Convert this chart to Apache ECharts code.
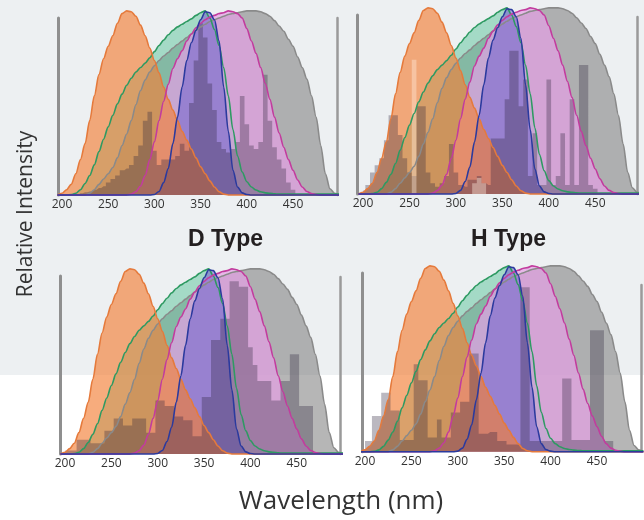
<!DOCTYPE html>
<html>
<head>
<meta charset="utf-8">
<script src="https://cdn.jsdelivr.net/npm/echarts@6/dist/echarts.min.js"></script>
<style>
html, body { margin: 0; padding: 0; }
body { width: 644px; height: 520px; background: linear-gradient(#edf0f2 0, #edf0f2 375px, #ffffff 375px); }
#chart { width: 644px; height: 520px; }
</style>
</head>
<body>
<div id="chart"></div>
<script>
// wavelengths for the spectra (nm)
var wl = [195,200,205,210,215,220,225,230,235,240,245,250,255,260,265,270,275,280,285,290,
  295,300,305,310,315,320,325,330,335,340,345,350,355,360,365,370,375,380,385,390,
  395,400,405,410,415,420,425,430,435,440,445,450,455,460,465,470,475,480,485,490,495,500];

// relative intensity, 1 = top of the axis line
var orangeCurve = [0,0.01,0.03,0.06,0.12,0.2,0.29,0.42,0.56,0.68,0.77,0.84,0.9,0.97,1.025,1.04,1.035,1.01,0.96,0.9,
  0.83,0.76,0.69,0.61,0.54,0.48,0.42,0.36,0.31,0.26,0.21,0.16,0.12,0.08,0.045,0.018,0.005,0,0,0,
  0,0,0,0,0,0,0,0,0,0,0,0,0,0,0,0,0,0,0,0,0,0];
var greenCurve = [0,0,0,0.002,0.01,0.03,0.065,0.11,0.17,0.245,0.315,0.385,0.45,0.515,0.57,0.62,0.66,0.695,0.72,0.745,
  0.775,0.81,0.845,0.875,0.905,0.93,0.95,0.965,0.98,0.995,1.015,1.03,1.04,1.0,0.935,0.845,0.72,0.56,0.37,0.22,
  0.13,0.075,0.045,0.028,0.018,0.012,0.009,0.007,0.005,0.005,0.005,0.005,0.005,0.005,0.005,0.005,0.005,0.005,0.005,0.005,0.005,0.005];
var grayCurve = [0,0,0,0,0,0,0,0.01,0.03,0.06,0.09,0.12,0.155,0.21,0.28,0.345,0.42,0.51,0.59,0.65,
  0.695,0.73,0.76,0.785,0.805,0.83,0.85,0.87,0.89,0.91,0.93,0.95,0.965,0.98,0.99,1.0,1.01,1.02,1.025,1.03,
  1.035,1.04,1.04,1.04,1.035,1.025,1.01,0.985,0.955,0.925,0.88,0.84,0.78,0.72,0.655,0.56,0.44,0.28,0.12,0.035,0.01,0];
var magentaCurve = [0,0,0,0,0,0,0,0,0,0,0,0,0,0,0,0,0.005,0.02,0.05,0.11,
  0.2,0.3,0.42,0.53,0.625,0.715,0.77,0.815,0.87,0.91,0.945,0.97,0.99,1.005,1.015,1.025,1.03,1.04,1.035,1.025,
  1.0,0.94,0.87,0.8,0.72,0.63,0.54,0.44,0.35,0.27,0.2,0.14,0.085,0.045,0.02,0.008,0.003,0,0,0,0,0];
var blueCurve = [0,0,0,0,0,0,0,0,0,0,0,0,0,0,0,0,0,0,0,0,
  0,0.003,0.02,0.07,0.15,0.29,0.44,0.61,0.76,0.86,0.93,0.99,1.035,1.03,0.99,0.87,0.61,0.36,0.14,0.045,
  0.012,0.003,0,0,0,0,0,0,0,0,0,0,0,0,0,0,0,0,0,0,0,0];

// histogram bin centres (nm)
var binWl = [200,205,210,215,220,225,230,235,240,245,250,255,260,265,270,275,280,285,290,295,
  300,305,310,315,320,325,330,335,340,345,350,355,360,365,370,375,380,385,390,395,
  400,405,410,415,420,425,430,435,440,445,450,455,460,465,470,475,480,485,490,495];

var histTopLeft = [0,0,0,0,0.01,0.015,0.02,0.03,0.04,0.05,0.07,0.09,0.11,0.14,0.15,0.17,0.22,0.28,0.42,0.47,
  0.25,0.17,0.2,0.2,0.2,0.22,0.29,0.25,0.52,0.76,0.97,0.89,0.63,0.48,0.3,0.26,0.24,0.26,0.3,0.56,
  0.4,0.28,0.26,0.3,0.68,0.42,0.27,0.2,0.15,0.07,0.03,0,0,0,0,0,0,0,0,0];
var histTopRight = [0.02,0.05,0.12,0.16,0.2,0.3,0.44,0.44,0.33,0.2,0.12,0.1,0.49,0.49,0.12,0.06,0.04,0.06,0.1,0.28,
  0.12,0.05,0.04,0.08,0.08,0.1,0.06,0.05,0.31,0.31,0.31,0.53,0.8,0.8,0.49,0.64,0.1,0.34,0.05,0.05,
  0.64,0.05,0.1,0.34,0.05,0.53,0.05,0.72,0.72,0.05,0.03,0,0,0,0,0,0,0,0,0];
// pale bars seen in the top-right panel
var lightTopRight = [0,0,0,0,0,0,0,0,0,0,0,0.75,0,0,0,0,0,0,0,0,
  0,0,0,0,0.06,0.09,0.06,0,0,0,0,0,0,0,0,0,0,0,0,0,
  0,0,0,0,0,0,0,0,0,0,0,0,0,0,0,0,0,0,0,0];
var histBottomLeft = [0.02,0.02,0.02,0.08,0.08,0.08,0.06,0.06,0.06,0.13,0.13,0.2,0.2,0.16,0.16,0.2,0.2,0.2,0.12,0.12,
  0.3,0.3,0.27,0.27,0.21,0.21,0.19,0.19,0.1,0.1,0.32,0.32,0.64,0.64,0.76,0.76,0.97,0.97,0.94,0.94,
  0.6,0.5,0.41,0.41,0.41,0.3,0.3,0.41,0.41,0.56,0.56,0.27,0.27,0.27,0,0,0,0,0,0];
var histBottomRight = [0.06,0.06,0.2,0.2,0.33,0.33,0.23,0.23,0.065,0.065,0.065,0.49,0.4,0.4,0.08,0.08,0.18,0.08,0.08,0.22,
  0.22,0.28,0.28,0.55,0.55,0.1,0.1,0.11,0.11,0.06,0.06,0.04,0.04,0.04,0.92,0.92,0.06,0.06,0.06,0.06,
  0.06,0.06,0.06,0.41,0.41,0.065,0.065,0.065,0.065,0.68,0.68,0.68,0.06,0.06,0,0,0,0,0,0];

var tickValues = [200, 250, 300, 350, 400, 450];

var panels = [
  { left: 58,  top: 18,  width: 279, height: 177,   min: 195.7, max: 497.6, hist: histTopLeft,     light: null,          edgeX: 337, edgeTop: 18 },
  { left: 357, top: 15,  width: 280, height: 179,   min: 193.5, max: 495,   hist: histTopRight,    light: lightTopRight, edgeX: 637, edgeTop: 17 },
  { left: 60,  top: 276, width: 281, height: 178,   min: 194.6, max: 497.7, hist: histBottomLeft,  light: null,          edgeX: 340, edgeTop: 277 },
  { left: 362, top: 273, width: 280, height: 178.7, min: 196.8, max: 498.5, hist: histBottomRight, light: null,          edgeX: 641, edgeTop: 285 }
];

var fills = [
  { data: grayCurve,    color: 'rgba(122,122,122,0.55)' },
  { data: greenCurve,   color: 'rgba(92,196,154,0.5)' },
  { data: magentaCurve, color: 'rgba(228,160,228,0.7)' },
  { data: blueCurve,    color: 'rgba(120,104,206,0.6)' },
  { data: orangeCurve,  color: 'rgba(242,128,56,0.65)' }
];
var strokes = [
  { data: grayCurve,    color: '#8a8a8a' },
  { data: greenCurve,   color: '#2e9a62' },
  { data: orangeCurve,  color: '#e57a3c' },
  { data: magentaCurve, color: '#c23c9e' },
  { data: blueCurve,    color: '#2b3a9e' }
];

function pairs(xs, ys) {
  return xs.map(function (x, i) { return [x, ys[i]]; });
}

var grids = [], xAxes = [], yAxes = [], series = [];

panels.forEach(function (p, k) {
  grids.push({ left: p.left, top: p.top, width: p.width, height: p.height });
  xAxes.push({
    type: 'value', gridIndex: k, min: p.min, max: p.max,
    axisLine: { show: false }, axisTick: { show: false }, splitLine: { show: false },
    axisLabel: { customValues: tickValues, margin: 4, fontSize: 12, color: '#333', fontFamily: 'Open Sans' }
  });
  yAxes.push({
    type: 'value', gridIndex: k, min: 0, max: 1,
    axisLine: { show: true, onZero: false, lineStyle: { color: '#8f8f8f', width: 3 } },
    axisTick: { show: false }, axisLabel: { show: false }, splitLine: { show: false }
  });

  fills.forEach(function (f) {
    series.push({
      type: 'line', xAxisIndex: k, yAxisIndex: k, data: pairs(wl, f.data),
      smooth: 0.3, smoothMonotone: 'x', symbol: 'none', clip: false, silent: true,
      lineStyle: { width: 0, opacity: 0 },
      areaStyle: { color: f.color, opacity: 1 }
    });
  });

  series.push({
    type: 'line', xAxisIndex: k, yAxisIndex: k, data: pairs(binWl, p.hist),
    step: 'middle', symbol: 'none', silent: true,
    lineStyle: { width: 0, opacity: 0 },
    areaStyle: { color: 'rgba(45,35,60,0.32)', opacity: 1 }
  });

  if (p.light) {
    series.push({
      type: 'line', xAxisIndex: k, yAxisIndex: k, data: pairs(binWl, p.light),
      step: 'middle', symbol: 'none', silent: true,
      lineStyle: { width: 0, opacity: 0 },
      areaStyle: { color: 'rgba(255,238,225,0.4)', opacity: 1 }
    });
  }

  strokes.forEach(function (s) {
    series.push({
      type: 'line', xAxisIndex: k, yAxisIndex: k, data: pairs(wl, s.data),
      smooth: 0.3, smoothMonotone: 'x', symbol: 'none', clip: false, silent: true,
      lineStyle: { color: s.color, width: 1.6 }
    });
  });
});

// thin grids carrying the right-hand frame lines
panels.forEach(function (p, k) {
  var gi = 4 + k;
  grids.push({ left: p.edgeX, top: p.edgeTop, width: 1, height: p.top + p.height - p.edgeTop });
  xAxes.push({ type: 'value', gridIndex: gi, show: false });
  yAxes.push({
    type: 'value', gridIndex: gi, min: 0, max: 1,
    axisLine: { show: true, onZero: false, lineStyle: { color: '#9a9a9a', width: 2.5 } },
    axisTick: { show: false }, axisLabel: { show: false }, splitLine: { show: false }
  });
});

var myChart = echarts.init(document.getElementById('chart'), null, { renderer: 'canvas' });
var option = {
  animation: false,
  grid: grids,
  xAxis: xAxes,
  yAxis: yAxes,
  series: series,
  graphic: [
    { type: 'text', x: 225.5, y: 240, style: { text: 'D Type', font: 'bold 23px "Liberation Sans"', fill: '#231f20', textAlign: 'center', textVerticalAlign: 'middle' } },
    { type: 'text', x: 508.5, y: 240, style: { text: 'H Type', font: 'bold 23px "Liberation Sans"', fill: '#231f20', textAlign: 'center', textVerticalAlign: 'middle' } },
    { type: 'text', x: 341, y: 502, style: { text: 'Wavelength (nm)', font: '26px "Open Sans"', fill: '#333', textAlign: 'center', textVerticalAlign: 'middle' } },
    { type: 'text', x: 26, y: 214, rotation: Math.PI / 2, style: { text: 'Relative Intensity', font: '21px "Open Sans"', fill: '#333', textAlign: 'center', textVerticalAlign: 'middle' } }
  ]
};
myChart.setOption(option);
</script>
</body>
</html>
